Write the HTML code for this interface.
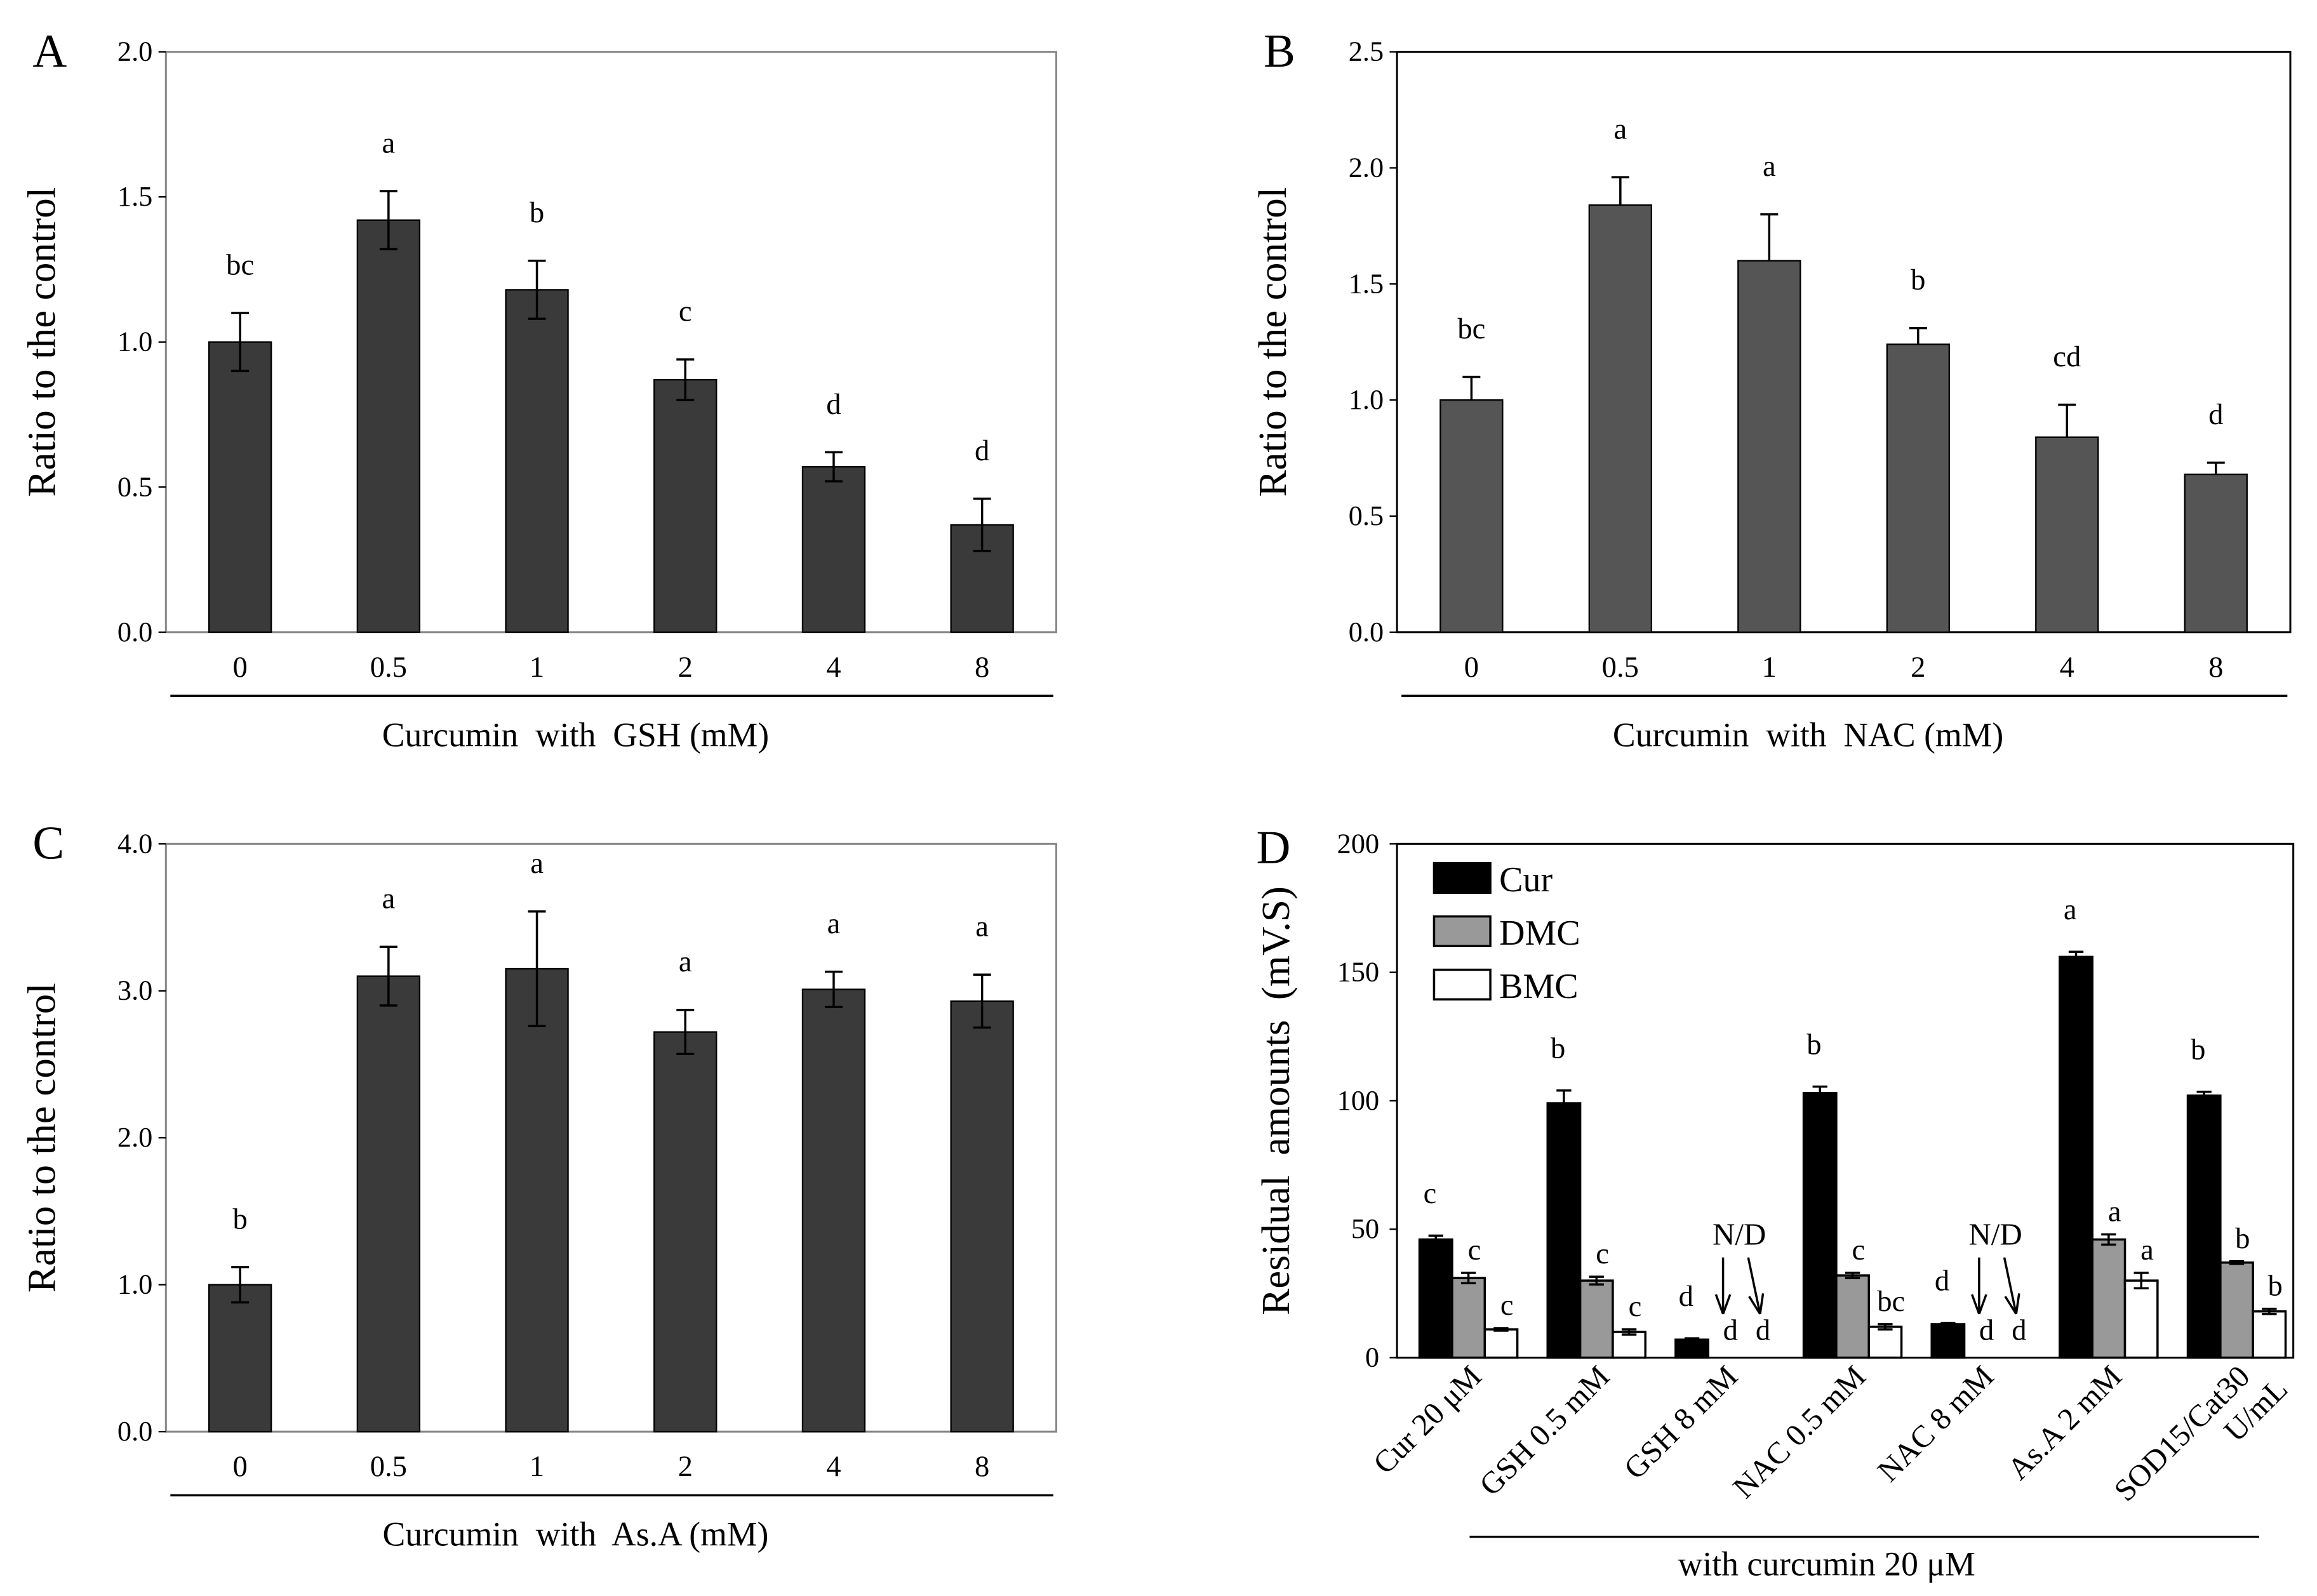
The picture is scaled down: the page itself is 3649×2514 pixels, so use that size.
<!DOCTYPE html>
<html><head><meta charset="utf-8"><style>
html,body{margin:0;padding:0;background:#fff}
svg{display:block}
text{font-family:"Liberation Serif","Times New Roman",serif;fill:#000;white-space:pre}
</style></head><body>
<svg id="fig" width="3649" height="2514" viewBox="0 0 1564 1078" preserveAspectRatio="none" xmlns="http://www.w3.org/2000/svg"></svg>
<script>
const catsABC = ["0","0.5","1","2","4","8"];
const valsA = [1.0,1.42,1.18,0.87,0.57,0.37];
const errA = [0.1,0.1,0.1,0.07,0.05,0.09];
const letA = ["bc","a","b","c","d","d"];
const ticksA = ["0.0","0.5","1.0","1.5","2.0"];
const valsB = [1.0,1.84,1.6,1.24,0.84,0.68];
const errB = [0.1,0.12,0.2,0.07,0.14,0.05];
const letB = ["bc","a","a","b","cd","d"];
const ticksB = ["0.0","0.5","1.0","1.5","2.0","2.5"];
const valsC = [1.0,3.1,3.15,2.72,3.01,2.93];
const errC = [0.12,0.2,0.39,0.15,0.12,0.18];
const letC = ["b","a","a","a","a","a"];
const ticksC = ["0.0","1.0","2.0","3.0","4.0"];
const catsD = ["Cur 20 μM","GSH 0.5 mM","GSH 8 mM","NAC 0.5 mM","NAC 8 mM","As.A 2 mM","SOD15/Cat30|U/mL"];
const curD = [46,99,7,103,13,156,102];
const curErr = [1.5,5,0.5,2.5,0.5,2,1.5];
const dmcD = [31,30,0,32,0,46,37];
const dmcErr = [2,1.5,0,1,0,2,0.5];
const bmcD = [11,10,0,12,0,30,18];
const bmcErr = [0.5,1,0,1,0,3,1];
const letCur = ["c","b","d","b","d","a","b"];
const letDmc = ["c","c","d","c","d","a","b"];
const letBmc = ["c","c","d","bc","d","a","b"];
const ticksD = [0,50,100,150,200];

const NS="http://www.w3.org/2000/svg";
const svg=document.getElementById('fig');
function el(tag,attrs,parent,txt){const e=document.createElementNS(NS,tag);for(const k in attrs)e.setAttribute(k,attrs[k]);if(txt!==undefined)e.textContent=txt;(parent||svg).appendChild(e);return e;}

function panel(o){
  const g=el('g',{});
  
  
  const {x0,x1,y0,y1,max}=o;
  const ys=v=>y1-(v/max)*(y1-y0);
  const xs=i=>x0+(x1-x0)*(i+0.5)/o.cats.length;
  const box=el('rect',{x:x0,y:y0,width:x1-x0,height:y1-y0,fill:'none',stroke:o.boxColor,'stroke-width':1.3},g);
  
  
  o.ticks.forEach(t=>{
    const v=parseFloat(t);
    el('line',{x1:x0-5,x2:x0,y1:ys(v),y2:ys(v),stroke:'#000','stroke-width':1},g);
    const tl=el('text',{x:x0-9,y:ys(v)+6,'text-anchor':'end','font-size':19},g,t);
    
    
  });
  o.vals.forEach((v,i)=>{
    const cx=xs(i),w=42;
    const b=el('rect',{x:cx-w/2,y:ys(v),width:w,height:ys(0)-ys(v),fill:o.color,stroke:'#000','stroke-width':1},g);
    
    
    const top=ys(v+o.err[i]),bot=o.oneSided?ys(v):ys(v-o.err[i]);
    el('line',{x1:cx,x2:cx,y1:top,y2:bot,stroke:'#000','stroke-width':1.5},g);
    el('line',{x1:cx-6,x2:cx+6,y1:top,y2:top,stroke:'#000','stroke-width':1.5},g);
    if(!o.oneSided)el('line',{x1:cx-6,x2:cx+6,y1:bot,y2:bot,stroke:'#000','stroke-width':1.5},g);
    const lt=el('text',{x:cx,y:top-26,'text-anchor':'middle','font-size':20},g,o.lets[i]);
    
    
    const xl=el('text',{x:cx,y:y1+30,'text-anchor':'middle','font-size':20},g,o.cats[i]);
    
    
  });
  el('line',{x1:x0+3,x2:x1-2,y1:y1+43,y2:y1+43,stroke:'#000','stroke-width':1.5},g);
  const xt=el('text',{x:(x0+x1)/2-24,y:y1+77,'text-anchor':'middle','font-size':23},g,o.xtitle);
  
  
  const yt=el('text',{x:0,y:0,'text-anchor':'middle','font-size':27,transform:`translate(${x0-75},${(y0+y1)/2}) rotate(-90)`},g,'Ratio to the control');
  
  
  const pl=el('text',{x:x0-90,y:y0+10,'font-size':32},g,o.label);
  
  
}
panel({name:'panel-a',label:'A',x0:112,x1:713,y0:35,y1:427,max:2.0,cats:catsABC,vals:valsA,err:errA,lets:letA,ticks:ticksA,color:'#3a3a3a',boxColor:'#888',xtitle:'Curcumin  with  GSH (mM)'});
panel({name:'panel-b',label:'B',x0:943,x1:1546,y0:35,y1:427,max:2.5,cats:catsABC,vals:valsB,err:errB,lets:letB,ticks:ticksB,color:'#555',boxColor:'#000',oneSided:true,xtitle:'Curcumin  with  NAC (mM)'});
panel({name:'panel-c',label:'C',x0:112,x1:713,y0:570,y1:967,max:4.0,cats:catsABC,vals:valsC,err:errC,lets:letC,ticks:ticksC,color:'#3a3a3a',boxColor:'#888',xtitle:'Curcumin  with  As.A (mM)'});

// Panel D
(function(){
  const g=el('g',{});
  
  
  const x0=943,x1=1548,y0=570,y1=917,max=200;
  const ys=v=>y1-(v/max)*(y1-y0);
  const bw=22;
  const gx=i=>x0+(x1-x0)*(i+0.5)/catsD.length + 5;
  const box=el('rect',{x:x0,y:y0,width:x1-x0,height:y1-y0,fill:'none',stroke:'#000','stroke-width':1.3},g);
  
  
  ticksD.forEach(t=>{
    el('line',{x1:x0-5,x2:x0,y1:ys(t),y2:ys(t),stroke:'#000'},g);
    const tl=el('text',{x:x0-12,y:ys(t)+6,'text-anchor':'end','font-size':19},g,String(t));
    
    
  });
  const series=[[curD,curErr,letCur,'#000'],[dmcD,dmcErr,letDmc,'#999'],[bmcD,bmcErr,letBmc,'#fff']];
  catsD.forEach((c,i)=>{
    const cx=gx(i);
    series.forEach((s,k)=>{
      const v=s[0][i],bx=cx-1.5*bw+k*bw+bw/2;
      if(v>0){
        const b=el('rect',{x:bx-bw/2,y:ys(v),width:bw,height:ys(0)-ys(v),fill:s[3],stroke:'#000','stroke-width':1.5},g);
        
        
        const top=ys(v+s[1][i]),bot=ys(Math.max(v-s[1][i],0));
        el('line',{x1:bx,x2:bx,y1:top,y2:bot,stroke:'#000','stroke-width':1.5},g);
        el('line',{x1:bx-5,x2:bx+5,y1:top,y2:top,stroke:'#000','stroke-width':1.5},g);
        el('line',{x1:bx-5,x2:bx+5,y1:bot,y2:bot,stroke:'#000','stroke-width':1.5},g);
      }
      const ly = v>0 ? ys(v+s[1][i])-(k==0?22:9) : ys(0)-12;
      const lx = k==0?bx-4:bx+4;
      const lt=el('text',{x:lx,y:ly,'text-anchor':'middle','font-size':20},g,s[2][i]);
      
      
    });
    if(dmcD[i]===0){
      const nd=el('text',{x:cx+10,y:ys(44),'text-anchor':'middle','font-size':21},g,'N/D');
      
      
      [[cx-1,cx-1],[cx+16,cx+24]].forEach(a=>{
        const ax1=a[0],ax2=a[1],ya=ys(39),yb=ys(17);
        el('line',{x1:ax1,y1:ya,x2:ax2,y2:yb,stroke:'#000','stroke-width':1.5},g);
        const ang=Math.atan2(yb-ya,ax2-ax1);
        [0.35,-0.35].forEach(d=>el('line',{x1:ax2,y1:yb,x2:ax2-14*Math.cos(ang+d),y2:yb-14*Math.sin(ang+d),stroke:'#000','stroke-width':1.5},g));
      });
    }
    const parts=c.split('|');
    const xl=el('text',{x:0,y:0,'text-anchor':'end','font-size':21,transform:`translate(${cx+10},${y1+14}) rotate(-45)`},g);
    
    
    parts.forEach((p,j)=>el('tspan',{x:j*12, dy:j?24:0},xl,p));
  });
  el('line',{x1:992,x2:1525,y1:1038,y2:1038,stroke:'#000','stroke-width':1.5},g);
  const xt=el('text',{x:1233,y:1064,'text-anchor':'middle','font-size':23},g,'with curcumin 20 μM');
  
  
  const yt=el('text',{x:0,y:0,'text-anchor':'middle','font-size':27,transform:`translate(870,${(y0+y1)/2}) rotate(-90)`},g,'Residual  amounts  (mV.S)');
  
  
  const pl=el('text',{x:848,y:583,'font-size':32},g,'D');
  
  
  const leg=el('g',{},g);
  
  
  [['Cur','#000'],['DMC','#999'],['BMC','#fff']].forEach((l,k)=>{
    const y=583+k*36;
    el('rect',{x:968,y:y,width:38,height:20,fill:l[1],stroke:'#000','stroke-width':1.5},leg);
    const t=el('text',{x:1012,y:y+19,'font-size':24},leg,l[0]);
    
    
  });
})();
</script>
</body></html>
